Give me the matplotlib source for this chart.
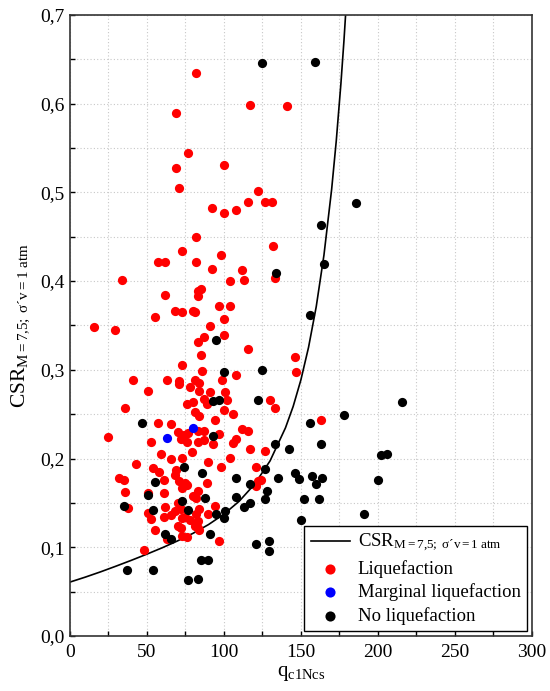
import matplotlib
matplotlib.use("Agg")
import matplotlib.pyplot as plt
from matplotlib.ticker import MultipleLocator, FuncFormatter

plt.rcParams["font.family"] = ["Liberation Serif", "DejaVu Serif"]
plt.rcParams["mathtext.fontset"] = "custom"
plt.rcParams["mathtext.rm"] = "Liberation Serif"
plt.rcParams["mathtext.it"] = "Liberation Serif:italic"

# boundary curve (qc1Ncs, CSR)
curve_q = [0, 10, 20, 30, 40, 50, 60, 70, 80, 90, 100, 110, 120, 130, 140, 145,
           150, 155, 160, 165, 170, 173, 176, 178, 180]
curve_csr = [0.0608, 0.0664, 0.0724, 0.0788, 0.0854, 0.0923, 0.0995, 0.1073, 0.1158,
             0.1256, 0.1373, 0.1520, 0.1712, 0.1974, 0.2346, 0.2587, 0.2885, 0.3254,
             0.3713, 0.4293, 0.5035, 0.5581, 0.6222, 0.6712, 0.7261]

# Liquefaction cases
liq_q = [82, 69, 117, 141, 77, 69, 100, 71, 122, 92, 100, 108, 116, 127, 131,
         82, 132, 73, 57, 62, 82, 98, 92, 112, 113, 104, 133, 34, 85, 83, 83, 62,
         68, 73, 80, 81, 97, 104, 55, 100, 16, 29, 91, 87, 100, 83, 85, 116, 146,
         147, 73, 86, 108, 41, 63, 71, 71, 81, 99, 51, 78, 84, 84, 91, 101, 130,
         133, 102, 76, 80, 87, 89, 36, 100, 106, 81, 84, 94, 163, 57, 66, 25, 70,
         74, 77, 83, 87, 53, 97, 112, 116, 108, 106, 72, 76, 83, 87, 93, 117, 127,
         59, 79, 66, 73, 90, 104, 43, 98, 121, 54, 58, 69, 68, 32, 35, 61, 71, 75,
         89, 122, 124, 121, 36, 51, 61, 73, 76, 83, 80, 82, 38, 62, 70, 72, 51, 53,
         84, 82, 78, 83, 68, 66, 73, 75, 90, 94, 61, 70, 72, 83, 81, 55, 84, 63,
         73, 76, 97, 48]
liq_csr = [0.634, 0.589, 0.598, 0.597, 0.544, 0.527, 0.531, 0.505, 0.502, 0.482,
           0.477, 0.480, 0.489, 0.489, 0.489, 0.450, 0.440, 0.434, 0.422, 0.422,
           0.422, 0.429, 0.414, 0.412, 0.401, 0.400, 0.404, 0.401, 0.391, 0.389,
           0.383, 0.384, 0.366, 0.365, 0.366, 0.365, 0.372, 0.372, 0.359, 0.357,
           0.348, 0.345, 0.349, 0.337, 0.339, 0.331, 0.317, 0.324, 0.315, 0.297,
           0.305, 0.299, 0.294, 0.288, 0.288, 0.287, 0.284, 0.289, 0.289, 0.276,
           0.281, 0.285, 0.276, 0.275, 0.275, 0.266, 0.257, 0.266, 0.261, 0.264,
           0.267, 0.261, 0.257, 0.255, 0.250, 0.252, 0.248, 0.244, 0.243, 0.240,
           0.239, 0.224, 0.230, 0.227, 0.229, 0.231, 0.231, 0.219, 0.228, 0.233,
           0.231, 0.222, 0.217, 0.222, 0.219, 0.219, 0.221, 0.216, 0.211, 0.209,
           0.205, 0.207, 0.199, 0.201, 0.196, 0.201, 0.194, 0.191, 0.191, 0.189,
           0.185, 0.187, 0.182, 0.178, 0.176, 0.176, 0.175, 0.173, 0.172, 0.175,
           0.176, 0.169, 0.162, 0.161, 0.161, 0.167, 0.170, 0.164, 0.158, 0.156,
           0.144, 0.145, 0.150, 0.143, 0.139, 0.132, 0.143, 0.137, 0.131, 0.130,
           0.141, 0.136, 0.133, 0.134, 0.137, 0.146, 0.134, 0.124, 0.122, 0.122,
           0.124, 0.119, 0.120, 0.109, 0.113, 0.112, 0.107, 0.097]

# Marginal liquefaction cases
marg_q = [63, 80]
marg_csr = [0.223, 0.234]

# No liquefaction cases
noliq_q = [125, 159, 186, 163, 165, 134, 156, 95, 125, 100, 93, 97, 122, 216, 178,
           156, 47, 93, 163, 142, 133, 202, 206, 74, 127, 146, 149, 157, 160, 164,
           86, 108, 135, 200, 55, 117, 51, 88, 108, 128, 127, 152, 162, 117, 113,
           191, 35, 54, 73, 77, 95, 100, 101, 150, 91, 62, 66, 121, 129, 129, 37,
           54, 85, 90, 77, 83]
noliq_csr = [0.646, 0.647, 0.488, 0.463, 0.419, 0.409, 0.362, 0.334, 0.300, 0.298,
             0.265, 0.266, 0.266, 0.264, 0.249, 0.240, 0.240, 0.226, 0.216, 0.211,
             0.216, 0.204, 0.205, 0.191, 0.188, 0.184, 0.177, 0.180, 0.171, 0.178,
             0.184, 0.178, 0.178, 0.176, 0.174, 0.171, 0.159, 0.156, 0.157, 0.163,
             0.155, 0.155, 0.154, 0.150, 0.145, 0.138, 0.147, 0.142, 0.152, 0.142,
             0.138, 0.133, 0.141, 0.131, 0.115, 0.115, 0.109, 0.104, 0.107, 0.096,
             0.074, 0.075, 0.086, 0.086, 0.063, 0.064]

csr_label = "CSR$_{\\mathrm{M=7{,}5;\\ \u03c3\u00b4v=1\\ atm}}$"

fig = plt.figure(figsize=(5.5, 6.91), dpi=100)
ax = fig.add_axes([0.127, 0.0795, 0.840, 0.899])

ax.plot(curve_q, curve_csr, color="black", lw=1.2, zorder=2, label=csr_label)
ax.scatter(liq_q, liq_csr, s=44, color="#ff0000", linewidths=0, zorder=3, label="Liquefaction")
ax.scatter(marg_q, marg_csr, s=44, color="#0000ff", linewidths=0, zorder=4, label="Marginal liquefaction")
ax.scatter(noliq_q, noliq_csr, s=44, color="black", linewidths=0, zorder=5, label="No liquefaction")

ax.set_xlim(0, 300)
ax.set_ylim(0, 0.7)
ax.xaxis.set_major_locator(MultipleLocator(50))
ax.xaxis.set_minor_locator(MultipleLocator(25))
ax.yaxis.set_major_locator(MultipleLocator(0.1))
ax.yaxis.set_minor_locator(MultipleLocator(0.05))
ax.yaxis.set_major_formatter(FuncFormatter(lambda v, p: f"{v:.1f}".replace(".", ",")))
ax.tick_params(which="both", direction="in", length=3.5, width=1, labelsize=14)
ax.tick_params(axis="x", pad=6)
ax.grid(which="both", color="#c8c8c8", linestyle=(0, (1, 2)), lw=0.8, zorder=0)
ax.set_axisbelow(True)
for s in ax.spines.values():
    s.set_linewidth(1.2)
    s.set_color("#333333")

ax.set_xlabel("q$_{\\mathrm{c1Ncs}}$", fontsize=15, labelpad=2)
ax.set_ylabel(csr_label, fontsize=15.5, labelpad=6)

leg = ax.legend(loc="lower right", fontsize=13.5, frameon=True, fancybox=False,
                edgecolor="black", framealpha=1, borderaxespad=0.25,
                handlelength=2.1, handletextpad=0.4, labelspacing=0.3, borderpad=0.35,
                markerscale=1.1)
leg.get_frame().set_linewidth(1.0)

plt.savefig("out.png", dpi=100)
plt.close()
